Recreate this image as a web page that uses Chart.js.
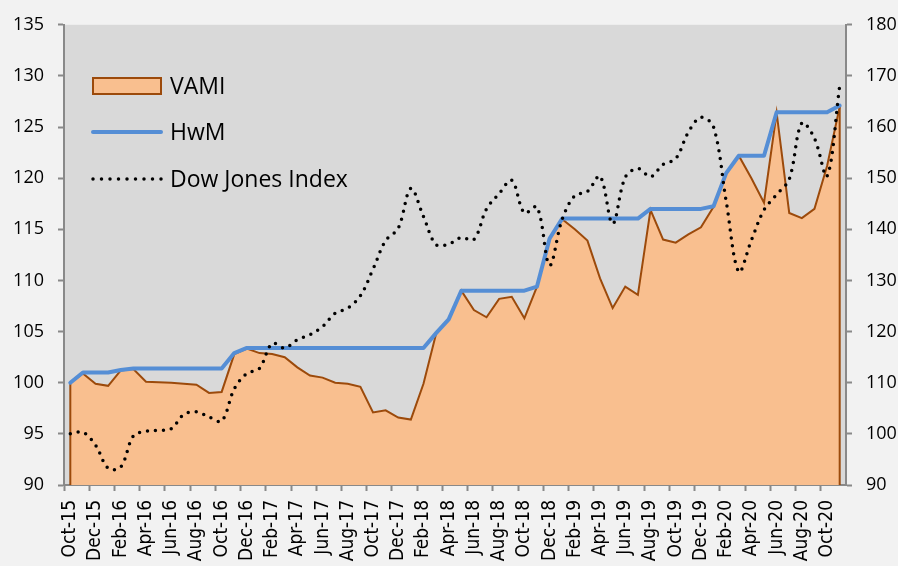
<!DOCTYPE html>
<html>
<head>
<meta charset="utf-8">
<script src="https://cdn.jsdelivr.net/npm/chart.js@4/dist/chart.umd.min.js"></script>
<style>
  html, body { margin: 0; padding: 0; background: #f2f2f2; }
  #chart { display: block; }
</style>
</head>
<body>
<canvas id="chart" width="898" height="566"></canvas>
<script>
// months, one per category (only every second one gets a label)
const months = [
  "Oct-15", "Nov-15", "Dec-15", "Jan-16", "Feb-16", "Mar-16", "Apr-16", "May-16", "Jun-16", "Jul-16",
  "Aug-16", "Sep-16", "Oct-16", "Nov-16", "Dec-16", "Jan-17", "Feb-17", "Mar-17", "Apr-17", "May-17",
  "Jun-17", "Jul-17", "Aug-17", "Sep-17", "Oct-17", "Nov-17", "Dec-17", "Jan-18", "Feb-18", "Mar-18",
  "Apr-18", "May-18", "Jun-18", "Jul-18", "Aug-18", "Sep-18", "Oct-18", "Nov-18", "Dec-18", "Jan-19",
  "Feb-19", "Mar-19", "Apr-19", "May-19", "Jun-19", "Jul-19", "Aug-19", "Sep-19", "Oct-19", "Nov-19",
  "Dec-19", "Jan-20", "Feb-20", "Mar-20", "Apr-20", "May-20", "Jun-20", "Jul-20", "Aug-20", "Sep-20",
  "Oct-20", "Nov-20"
];

const vami = [
  100.0, 100.9, 99.9, 99.7, 101.2, 101.35, 100.1, 100.05, 100.0, 99.9,
  99.8, 99.0, 99.1, 102.8, 103.35, 102.9, 102.8, 102.5, 101.5, 100.7,
  100.5, 100.0, 99.9, 99.6, 97.1, 97.3, 96.6, 96.4, 99.9, 104.8,
  106.2, 109.0, 107.1, 106.4, 108.2, 108.4, 106.3, 109.4, 114.1, 116.0,
  115.0, 113.9, 110.2, 107.3, 109.4, 108.6, 116.9, 114.0, 113.7, 114.5,
  115.2, 117.2, 120.5, 122.2, 120.0, 117.6, 126.4, 116.6, 116.1, 117.0,
  121.2, 127.0
];

const hwm = [
  100.0, 101.0, 101.0, 101.0, 101.25, 101.4, 101.4, 101.4, 101.4, 101.4,
  101.4, 101.4, 101.4, 102.9, 103.4, 103.4, 103.4, 103.4, 103.4, 103.4,
  103.4, 103.4, 103.4, 103.4, 103.4, 103.4, 103.4, 103.4, 103.4, 104.85,
  106.2, 109.0, 109.0, 109.0, 109.0, 109.0, 109.0, 109.4, 114.1, 116.05,
  116.05, 116.05, 116.05, 116.05, 116.05, 116.05, 117.0, 117.0, 117.0, 117.0,
  117.0, 117.25, 120.5, 122.2, 122.2, 122.2, 126.45, 126.45, 126.45, 126.45,
  126.45, 127.1
];

const dowJones = [
  100.0, 100.3, 97.8, 93.3, 93.5, 99.6, 100.5, 100.7, 101.0, 103.8,
  104.3, 103.3, 102.5, 108.8, 111.8, 112.8, 117.7, 116.8, 118.4, 119.4,
  121.0, 123.6, 124.6, 127.0, 132.2, 137.8, 140.2, 148.0, 142.5, 137.0,
  137.1, 138.4, 138.0, 144.0, 147.0, 149.6, 143.2, 144.4, 133.0, 142.0,
  146.6, 147.4, 150.4, 141.1, 150.2, 151.9, 150.3, 152.7, 153.8, 159.0,
  161.9, 160.0, 145.5, 131.7, 137.9, 143.8, 146.8, 149.8, 160.8, 157.8,
  150.4, 168.0
];

const AREA_FILL = "#f9bf8f";
const AREA_LINE = "#9c4a0b";
const HWM_BLUE = "#558ed5";
const AXIS_GREY = "#898989";

// grey plot area behind everything
const plotBackground = {
  id: "plotBackground",
  beforeDraw(chart) {
    const a = chart.chartArea;
    const ctx = chart.ctx;
    ctx.save();
    ctx.fillStyle = "#d9d9d9";
    ctx.fillRect(a.left, a.top, a.right - a.left, a.bottom - a.top);
    ctx.restore();
  }
};

// excel draws the outline of the area down to the axis at both ends
const areaEdges = {
  id: "areaEdges",
  afterDatasetDraw(chart, args) {
    if (args.index !== 0) return;
    const pts = args.meta.data;
    const ctx = chart.ctx;
    const bottom = chart.chartArea.bottom;
    ctx.save();
    ctx.strokeStyle = AREA_LINE;
    ctx.lineWidth = 2;
    [pts[0], pts[pts.length - 1]].forEach((p) => {
      ctx.beginPath();
      ctx.moveTo(p.x, p.y);
      ctx.lineTo(p.x, bottom);
      ctx.stroke();
    });
    ctx.restore();
  }
};

// legend sits inside the plot, top left
const insideLegend = {
  id: "insideLegend",
  afterDraw(chart) {
    const ctx = chart.ctx;
    ctx.save();
    ctx.font = "23px 'Open Sans'";
    ctx.fillStyle = "#000";
    ctx.textBaseline = "middle";

    ctx.fillStyle = AREA_FILL;
    ctx.fillRect(93, 78, 68, 16);
    ctx.strokeStyle = AREA_LINE;
    ctx.lineWidth = 2;
    ctx.strokeRect(93, 78, 68, 16);
    ctx.fillStyle = "#000";
    ctx.fillText("VAMI", 170, 87);

    ctx.beginPath();
    ctx.strokeStyle = HWM_BLUE;
    ctx.lineWidth = 4;
    ctx.lineCap = "round";
    ctx.moveTo(93, 132);
    ctx.lineTo(161, 132);
    ctx.stroke();
    ctx.fillText("HwM", 170, 133);

    ctx.beginPath();
    ctx.strokeStyle = "#000";
    ctx.lineWidth = 3.5;
    ctx.setLineDash([0, 8.5]);
    ctx.moveTo(93, 179);
    ctx.lineTo(162, 179);
    ctx.stroke();
    ctx.setLineDash([]);
    ctx.fillText("Dow Jones Index", 170, 180);
    ctx.restore();
  }
};

function main() {
  const ctx = document.getElementById("chart").getContext("2d");

  const datasets = [
    {
      label: "VAMI",
      data: vami,
      yAxisID: "y",
      order: 3,
      fill: "start",
      backgroundColor: AREA_FILL,
      borderColor: AREA_LINE,
      borderWidth: 2,
      pointRadius: 0,
      tension: 0
    },
    {
      label: "HwM",
      data: hwm,
      yAxisID: "y",
      order: 2,
      fill: false,
      borderColor: HWM_BLUE,
      borderWidth: 4,
      borderJoinStyle: "round",
      borderCapStyle: "round",
      pointRadius: 0,
      tension: 0
    },
    {
      label: "Dow Jones Index",
      data: dowJones,
      yAxisID: "y2",
      order: 1,
      fill: false,
      borderColor: "#000",
      borderWidth: 3.5,
      borderDash: [0, 8],
      borderCapStyle: "round",
      pointRadius: 0,
      tension: 0.35
    }
  ];

  const yTickFont = { family: "'Open Sans'", size: 18 };

  const options = {
    responsive: false,
    animation: false,
    layout: { padding: { top: 21, left: 0, right: 0, bottom: 0 } },
    plugins: {
      legend: { display: false },
      tooltip: { enabled: false }
    },
    scales: {
      x: {
        type: "category",
        offset: true,
        afterFit: (scale) => { scale.height = 81; },
        border: { color: AXIS_GREY, width: 2 },
        grid: {
          offset: true,
          drawOnChartArea: false,
          tickLength: 6,
          tickColor: (c) => (c.index % 2 === 0 ? AXIS_GREY : "rgba(0,0,0,0)"),
          tickWidth: 2
        },
        ticks: {
          autoSkip: false,
          minRotation: 90,
          maxRotation: 90,
          padding: 9,
          color: "#000",
          font: { family: "'DejaVu Sans Condensed', 'DejaVu Sans'", size: 19 },
          callback: function (value, index) {
            return index % 2 === 0 ? this.getLabelForValue(value) : "";
          }
        }
      },
      y: {
        position: "left",
        min: 90,
        max: 135,
        afterFit: (scale) => { scale.width = 64; },
        border: { color: AXIS_GREY, width: 2 },
        grid: { drawOnChartArea: false, tickLength: 6, tickColor: AXIS_GREY, tickWidth: 2 },
        ticks: { stepSize: 5, padding: 14, color: "#000", font: yTickFont }
      },
      y2: {
        position: "right",
        min: 90,
        max: 180,
        afterFit: (scale) => { scale.width = 52; },
        border: { color: AXIS_GREY, width: 2 },
        grid: { drawOnChartArea: false, tickLength: 6, tickColor: AXIS_GREY, tickWidth: 2 },
        ticks: { stepSize: 10, padding: 14, color: "#000", font: yTickFont }
      }
    }
  };

  new Chart(ctx, {
    type: "line",
    data: { labels: months, datasets: datasets },
    options: options,
    plugins: [plotBackground, areaEdges, insideLegend]
  });
}

window.addEventListener("load", main);
</script>
</body>
</html>
